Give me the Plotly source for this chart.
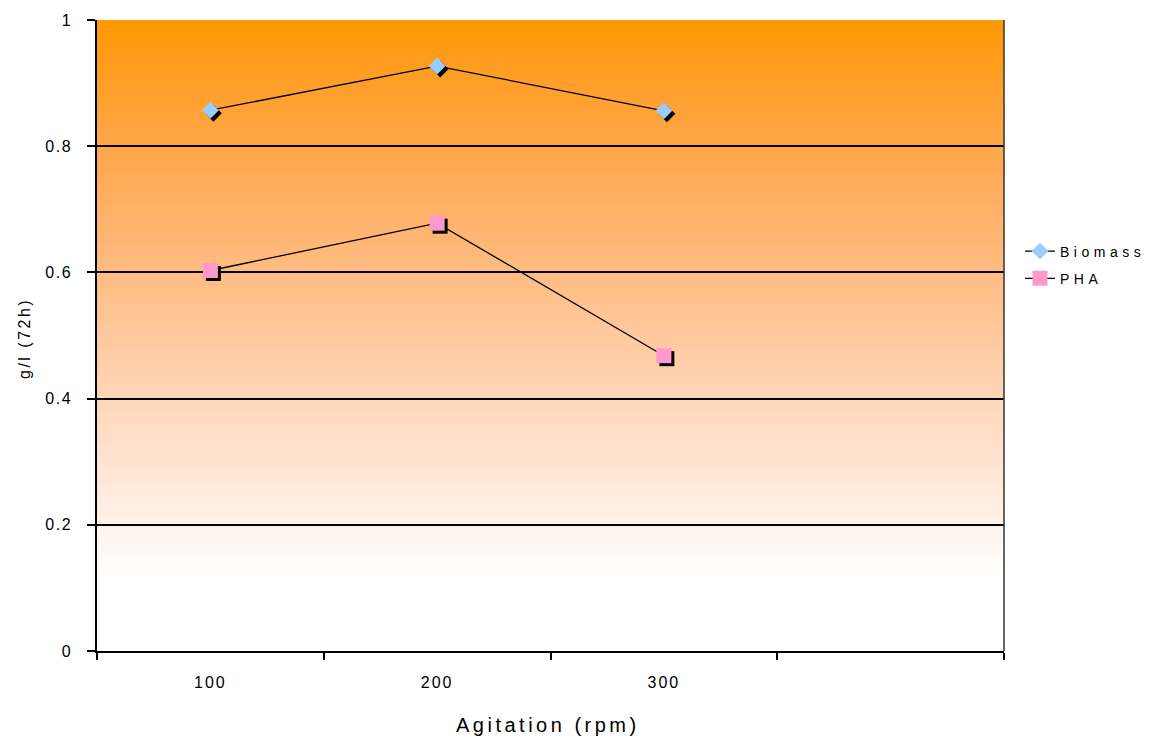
import plotly.graph_objects as go

# ---- data -------------------------------------------------------------
agitation = ["100", "200", "300"]          # rpm
biomass = [0.857, 0.927, 0.856]            # g/l after 72 h
pha = [0.603, 0.678, 0.468]                # g/l after 72 h
y_ticks = [0, 0.2, 0.4, 0.6, 0.8, 1]
y_tick_text = ["0", "0.2", "0.4", "0.6", "0.8", "1"]

# an extra empty category leaves a blank slot on the right of the axis
categories = agitation + [" "]

# ---- geometry ---------------------------------------------------------
W, H = 1158, 742
M_L, M_R, M_T, M_B = 90, 140, 10, 80
PW, PH = W - M_L - M_R, H - M_T - M_B
BOX_L, BOX_R, BOX_T, BOX_B = 97, 1004, 20, 651


def px_x(px):
    return (px - M_L) / PW


def px_y(py):
    return (H - M_B - py) / PH


dom_x = [px_x(BOX_L), px_x(BOX_R)]
dom_y = [px_y(BOX_B), px_y(BOX_T)]
SH = 3  # drop-shadow offset of the markers, px
sh_x = [d + SH / PW for d in dom_x]
sh_y = [d - SH / PH for d in dom_y]

FONT = "Liberation Sans, Arial, sans-serif"


def spaced(text, ls):
    return f'<span style="letter-spacing:{ls}px">{text}</span>'


fig = go.Figure()

# drop shadows (drawn first, on a slightly shifted subplot)
fig.add_trace(go.Scatter(
    x=agitation, y=biomass, mode="markers", xaxis="x", yaxis="y",
    marker=dict(symbol="diamond", size=13, color="black"),
    showlegend=False, hoverinfo="skip"))
fig.add_trace(go.Scatter(
    x=agitation, y=pha, mode="markers", xaxis="x", yaxis="y",
    marker=dict(symbol="square", size=15, color="black"),
    showlegend=False, hoverinfo="skip"))

# series
fig.add_trace(go.Scatter(
    x=agitation, y=biomass, mode="lines+markers", name=spaced("Biomass", 4.5),
    xaxis="x2", yaxis="y2", legendgroup="a",
    line=dict(color="black", width=1.3),
    marker=dict(symbol="diamond", size=13, color="#99CCFF")))
fig.add_trace(go.Scatter(
    x=agitation, y=pha, mode="lines+markers", name=spaced("PHA", 4.5),
    xaxis="x2", yaxis="y2", legendgroup="b",
    line=dict(color="black", width=1.3),
    marker=dict(symbol="square", size=15, color="#FF99CC")))

# ---- orange-to-white vertical gradient behind the plot area ------------
TOP = (255, 153, 0)
EXPO = (1.0, 1.35, 0.85)   # per-channel easing towards white
Y_WHITE = 0.12
N = 176
shapes = []
for i in range(N):
    y0 = i / N
    y1 = (i + 1) / N
    ym = (y0 + y1) / 2
    t = min(1.0, (1 - ym) / (1 - Y_WHITE))
    r, g, b = (round(c + (255 - c) * t ** p) for c, p in zip(TOP, EXPO))
    shapes.append(dict(
        type="rect", xref="paper", yref="y2", layer="below",
        x0=dom_x[0], x1=dom_x[1], y0=y0, y1=min(1, y1 + 0.002),
        fillcolor=f"rgb({r},{g},{b})", line=dict(width=0)))

# right border of the plot box
shapes.append(dict(
    type="line", xref="paper", yref="y2", layer="above",
    x0=dom_x[1], x1=dom_x[1], y0=0, y1=1,
    line=dict(color="#333333", width=1.5)))

# axis titles
annotations = [
    dict(text=spaced("Agitation (rpm)", 3.5), xref="paper", yref="paper",
         x=px_x(548), y=px_y(725), xanchor="center", yanchor="middle",
         showarrow=False, font=dict(size=20)),
    dict(text=spaced("g/l (72h)", 2.5), xref="paper", yref="paper",
         x=px_x(24), y=px_y(339), xanchor="center", yanchor="middle",
         textangle=-90, showarrow=False, font=dict(size=16)),
]

fig.update_layout(
    width=W, height=H,
    margin=dict(l=M_L, r=M_R, t=M_T, b=M_B, autoexpand=False),
    paper_bgcolor="white", plot_bgcolor="rgba(0,0,0,0)",
    font=dict(family=FONT, color="black", size=13),
    shapes=shapes,
    annotations=annotations,
    showlegend=True,
    legend=dict(
        x=px_x(1020), y=px_y(265), xanchor="left", yanchor="middle",
        font=dict(size=14), tracegroupgap=6, bgcolor="rgba(0,0,0,0)"),
    xaxis=dict(
        domain=sh_x, anchor="y", type="category",
        categoryorder="array", categoryarray=categories,
        range=[-0.5, 3.5], visible=False, fixedrange=True),
    yaxis=dict(
        domain=sh_y, anchor="x", range=[0, 1], visible=False,
        fixedrange=True),
    xaxis2=dict(
        domain=dom_x, anchor="y2", type="category",
        categoryorder="array", categoryarray=categories,
        range=[-0.5, 3.5],
        tickmode="array", tickvals=categories,
        ticktext=[spaced(c, 2) for c in agitation] + [""],
        tickson="boundaries", ticks="outside", ticklen=7,
        tickwidth=1.5, tickcolor="black",
        ticklabelstandoff=16,
        showline=True, linecolor="black", linewidth=1.5,
        showgrid=False, zeroline=False,
        tickfont=dict(size=16)),
    yaxis2=dict(
        domain=dom_y, anchor="x2", range=[0, 1],
        tickmode="array", tickvals=y_ticks,
        ticktext=[spaced(t, 1.5) for t in y_tick_text],
        ticks="outside", ticklen=8, tickwidth=1.5, tickcolor="black",
        ticklabelstandoff=12,
        showline=True, linecolor="black", linewidth=1.5,
        showgrid=True, gridcolor="black", gridwidth=1.5,
        zeroline=False,
        tickfont=dict(size=16)),
)

fig.write_html("out.html")
